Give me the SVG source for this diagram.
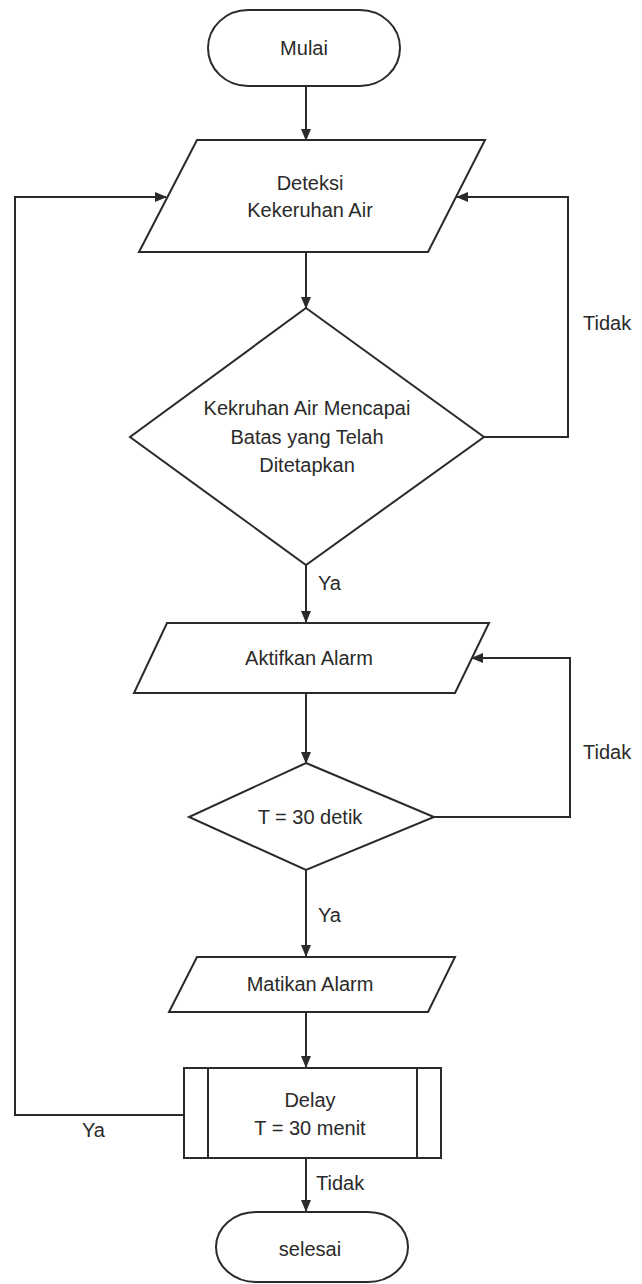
<svg xmlns="http://www.w3.org/2000/svg" width="642" height="1284" viewBox="0 0 642 1284">
<style>
.s{fill:#fff;stroke:#2a2a2a;stroke-width:2}
.c{fill:none;stroke:#2a2a2a;stroke-width:2}
.t{font-family:"Liberation Sans",Arial,sans-serif;font-size:20px;fill:#2a2a2a;text-anchor:middle}
.l{font-family:"Liberation Sans",Arial,sans-serif;font-size:20px;fill:#2a2a2a}
</style>
<defs>
<marker id="a" markerWidth="12" markerHeight="12" refX="11" refY="6" orient="auto" markerUnits="userSpaceOnUse">
<path d="M0,1 L12,6 L0,11 Z" fill="#2a2a2a"/>
</marker>
</defs>
<rect width="642" height="1284" fill="#fff"/>
<g id="connectors">
<path class="c" d="M306,86 V140" marker-end="url(#a)"/>
<path class="c" d="M306,252 V308" marker-end="url(#a)"/>
<path class="c" d="M484,437 H568 V197 H457" marker-end="url(#a)"/>
<path class="c" d="M306,565 V622" marker-end="url(#a)"/>
<path class="c" d="M306,693 V763" marker-end="url(#a)"/>
<path class="c" d="M434,817 H570 V658 H472" marker-end="url(#a)"/>
<path class="c" d="M306,870 V956" marker-end="url(#a)"/>
<path class="c" d="M306,1012 V1067" marker-end="url(#a)"/>
<path class="c" d="M184,1115 H15 V197 H166" marker-end="url(#a)"/>
<path class="c" d="M306,1158 V1211" marker-end="url(#a)"/>
<text class="l" x="583" y="330">Tidak</text>
<text class="l" x="318" y="590">Ya</text>
<text class="l" x="583" y="759">Tidak</text>
<text class="l" x="318" y="922">Ya</text>
<text class="l" x="82" y="1137">Ya</text>
<text class="l" x="316" y="1190">Tidak</text>
</g>
<g id="mulai">
<rect class="s" x="208" y="10" width="192" height="76" rx="40" ry="38"/>
<text class="t" x="304" y="55">Mulai</text>
</g>
<g id="deteksi">
<polygon class="s" points="197,140 485,140 428,252 139,252"/>
<text class="t" x="310" y="190">Deteksi</text>
<text class="t" x="310" y="217">Kekeruhan Air</text>
</g>
<g id="cek-kekeruhan">
<polygon class="s" points="306,308 484,437 306,565 130,437"/>
<text class="t" x="307" y="415">Kekruhan Air Mencapai</text>
<text class="t" x="307" y="444">Batas yang Telah</text>
<text class="t" x="307" y="472">Ditetapkan</text>
</g>
<g id="aktifkan">
<polygon class="s" points="167,623 489,623 455,693 134,693"/>
<text class="t" x="309" y="665">Aktifkan Alarm</text>
</g>
<g id="cek-waktu">
<polygon class="s" points="306,763 434,817 306,870 189,817"/>
<text class="t" x="310" y="824">T = 30 detik</text>
</g>
<g id="matikan">
<polygon class="s" points="197,957 455,957 428,1012 169,1012"/>
<text class="t" x="310" y="991">Matikan Alarm</text>
</g>
<g id="delay">
<rect class="s" x="184" y="1068" width="257" height="90"/>
<line class="c" x1="208" y1="1068" x2="208" y2="1158"/>
<line class="c" x1="417" y1="1068" x2="417" y2="1158"/>
<text class="t" x="310" y="1107">Delay</text>
<text class="t" x="310" y="1135">T = 30 menit</text>
</g>
<g id="selesai">
<rect class="s" x="216" y="1212" width="192" height="70" rx="40" ry="35"/>
<text class="t" x="310" y="1256">selesai</text>
</g>
</svg>
